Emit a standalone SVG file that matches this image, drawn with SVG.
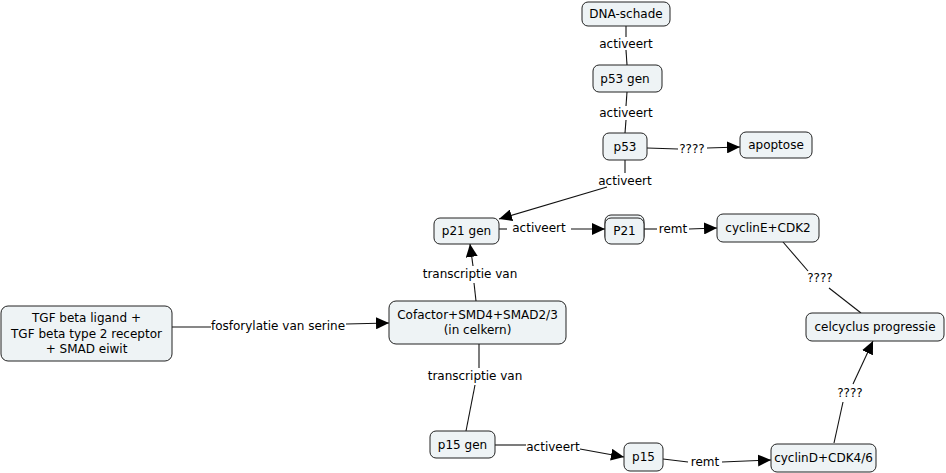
<svg xmlns="http://www.w3.org/2000/svg" width="946" height="473" viewBox="0 0 946 473">
<style>
.n rect{fill:#eef3f5;stroke:#222;stroke-width:1}
text{font-family:"DejaVu Sans",Verdana,sans-serif;font-size:12px;fill:#000;text-anchor:middle;dominant-baseline:central}
.c line,.c polyline{stroke:#111;stroke-width:1.1;fill:none}
.a{marker-end:url(#ah)}
</style>
<defs>
<marker id="ah" markerUnits="userSpaceOnUse" markerWidth="14" markerHeight="12" refX="13" refY="6" orient="auto">
<path d="M0,0 L13,6 L0,12 Z" fill="#000"/>
</marker>
</defs>
<rect width="946" height="473" fill="#fff"/>
<g class="c" id="connectors">
<line x1="626" y1="26" x2="626" y2="37"/>
<text x="626" y="44">activeert</text>
<line x1="626" y1="50" x2="627" y2="65"/>
<line x1="627" y1="92" x2="626" y2="106"/>
<text x="626" y="113">activeert</text>
<line x1="626" y1="120" x2="625" y2="133"/>
<line x1="647" y1="148" x2="678" y2="149"/>
<text x="692" y="149">????</text>
<line class="a" x1="707" y1="148" x2="740" y2="147"/>
<line x1="625" y1="160" x2="625" y2="173"/>
<text x="625" y="181">activeert</text>
<line class="a" x1="607" y1="187" x2="499" y2="219"/>
<line x1="499" y1="229" x2="507" y2="229"/>
<text x="539" y="228">activeert</text>
<line class="a" x1="571" y1="229" x2="605" y2="229"/>
<line x1="644" y1="229" x2="657" y2="229"/>
<text x="673" y="229">remt</text>
<line class="a" x1="689" y1="229" x2="717" y2="228"/>
<line x1="783" y1="242" x2="808" y2="271"/>
<text x="820" y="278">????</text>
<line x1="829" y1="288" x2="861" y2="313"/>
<line x1="834" y1="443" x2="843" y2="402"/>
<text x="850" y="393">????</text>
<line class="a" x1="853" y1="384" x2="873" y2="341"/>
<line x1="476" y1="301" x2="474" y2="283"/>
<text x="470" y="274">transcriptie van</text>
<line class="a" x1="473" y1="266" x2="470" y2="244"/>
<line x1="479" y1="344" x2="479" y2="368"/>
<text x="475" y="376">transcriptie van</text>
<line x1="475" y1="385" x2="466" y2="431"/>
<line x1="172" y1="327" x2="211" y2="327"/>
<text x="278" y="326">fosforylatie van serine</text>
<line class="a" x1="346" y1="324" x2="389" y2="323"/>
<line x1="495" y1="445" x2="526" y2="445"/>
<text x="553" y="447">activeert</text>
<line class="a" x1="580" y1="449" x2="624" y2="457"/>
<line x1="663" y1="459" x2="688" y2="462"/>
<text x="705" y="462">remt</text>
<line class="a" x1="722" y1="462" x2="771" y2="460"/>
</g>
<g class="n" id="n-dna"><rect x="582" y="2" width="88" height="24" rx="6"/><text x="626" y="14">DNA-schade</text></g>
<g class="n" id="n-p53gen"><rect x="593" y="65" width="69" height="27" rx="6"/><text x="625" y="78.5">p53 gen</text></g>
<g class="n" id="n-p53"><rect x="603" y="133" width="44" height="27" rx="6"/><text x="625" y="146.5">p53</text></g>
<g class="n" id="n-apoptose"><rect x="740" y="132" width="72" height="26" rx="6"/><text x="776" y="145">apoptose</text></g>
<g class="n" id="n-p21gen"><rect x="434" y="218" width="65" height="26" rx="6"/><text x="466.5" y="231">p21 gen</text></g>
<g class="n" id="n-P21"><rect x="605" y="215" width="39" height="27" rx="6"/><rect x="605" y="218" width="39" height="26" rx="6"/><text x="624.5" y="231">P21</text></g>
<g class="n" id="n-cyclinE"><rect x="717" y="214" width="102" height="28" rx="6"/><text x="768" y="228">cyclinE+CDK2</text></g>
<g class="n" id="n-celcyclus"><rect x="806" y="313" width="138" height="28" rx="6"/><text x="875" y="327">celcyclus progressie</text></g>
<g class="n" id="n-tgf"><rect x="1" y="306" width="171" height="55" rx="7"/><text x="86.5" y="318">TGF beta ligand +</text><text x="86.5" y="333.5">TGF beta type 2 receptor</text><text x="86.5" y="349">+ SMAD eiwit</text></g>
<g class="n" id="n-cofactor"><rect x="389" y="301" width="177" height="43" rx="7"/><text x="477.5" y="315">Cofactor+SMD4+SMAD2/3</text><text x="477.5" y="330">(in celkern)</text></g>
<g class="n" id="n-p15gen"><rect x="430" y="431" width="65" height="27" rx="6"/><text x="462.5" y="444.5">p15 gen</text></g>
<g class="n" id="n-p15"><rect x="624" y="443" width="39" height="28" rx="6"/><text x="643.5" y="457">p15</text></g>
<g class="n" id="n-cyclinD"><rect x="771" y="444" width="105" height="28" rx="6"/><text x="823.5" y="458">cyclinD+CDK4/6</text></g>
</svg>
